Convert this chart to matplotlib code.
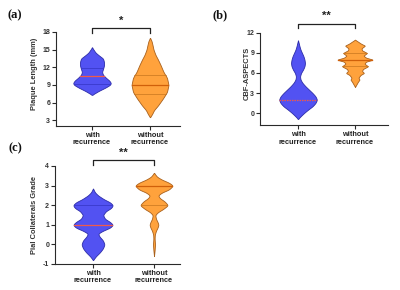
import numpy as np
import matplotlib
matplotlib.use("Agg")
import matplotlib.pyplot as plt

# ---------------- data ----------------
categories = ["with\nrecurrence", "without\nrecurrence"]

# Panel (a) Plaque Length (mm): violin profiles (level, relative width)
a_with_y = [7.3, 7.6, 8.0, 8.5, 9.0, 9.3, 9.7, 10.2, 10.7, 11.2, 11.7, 12.3, 12.9, 13.5, 14.0, 14.5, 15.0, 15.4]
a_with_w = [0, 3, 7, 13, 18, 19, 17.5, 14, 11, 10, 11, 12, 12, 11, 7, 3.5, 1.5, 0]
a_without_y = [3.5, 4.0, 4.7, 5.5, 6.7, 7.8, 9.0, 10.2, 11.2, 12.4, 13.3, 14.1, 15.0, 15.8, 16.5, 17.0]
a_without_w = [0, 2, 4, 8, 13, 17, 18.5, 17, 13.5, 10.5, 8, 5.5, 3.5, 2.5, 1.5, 0]
a_median = [10.5, 8.9]
a_quartiles = [[9.1, 11.8], [7.4, 10.6]]

# Panel (b) CBF-ASPECTS
b_with_y = [-0.9, -0.5, 0.0, 0.5, 1.0, 1.5, 2.0, 2.5, 3.0, 3.5, 4.0, 4.5, 5.0, 5.5, 6.0, 6.5, 7.0, 7.5, 8.0, 8.5, 9.0, 9.5, 10.0, 10.5, 10.9]
b_with_w = [0, 2.5, 6, 10, 14.5, 17.5, 19, 17.5, 14.5, 11, 7.5, 4.5, 2.5, 2, 3, 5, 6.5, 7, 6.5, 5.5, 4, 2.5, 1.5, 0.7, 0]
b_without_y = [3.9, 4.3, 4.7, 5.0, 5.3, 5.7, 6.0, 6.3, 6.6, 7.0, 7.4, 7.7, 8.0, 8.3, 8.6, 9.0, 9.4, 9.7, 10.1, 10.4, 10.7, 11.0]
b_without_w = [0, 1.5, 3, 4.5, 3.5, 5.5, 9, 7, 8, 13, 9.5, 11, 18, 11, 8.5, 12, 7, 6.5, 10, 6, 3, 0]
b_median = [2, 8]
b_quartiles = [[], [7, 9]]

# Panel (c) Pial Collaterals Grade
c_with_y = [-0.8, -0.6, -0.4, -0.2, 0.0, 0.2, 0.4, 0.55, 0.7, 0.85, 1.0, 1.15, 1.3, 1.5, 1.7, 1.85, 2.0, 2.15, 2.3, 2.5, 2.65, 2.85]
c_with_w = [0, 3, 7, 10, 11.5, 10, 6.5, 5, 10, 17, 20, 17, 12, 10, 13, 18, 20, 17, 11, 5, 2, 0]
c_without_y = [-0.6, -0.3, 0.0, 0.3, 0.5, 0.7, 0.85, 1.0, 1.15, 1.3, 1.5, 1.65, 1.8, 2.0, 2.2, 2.35, 2.5, 2.65, 2.8, 3.0, 3.15, 3.3, 3.45, 3.65]
c_without_w = [0, 0.6, 1.0, 0.6, 0.8, 2, 3.5, 4.5, 3.5, 2, 1.2, 4, 9, 14, 10.5, 6, 4, 8, 15, 19, 15, 8, 3, 0]
c_median = [1, 3]
c_quartiles = [[2], [2]]

# ---------------- style ----------------
BLUE = "#5252f2"
BLUE_EDGE = "#2c2ca8"
BLUE_Q = "#3434c4"
BLUE_MED = "#f05a4a"
ORANGE = "#ffa23c"
ORANGE_EDGE = "#a8601c"
ORANGE_Q = "#c8761e"
ORANGE_MED = "#d0600a"
AXC = "#2a2a2a"

W, H = 400, 290
fig = plt.figure(figsize=(4, 2.9), dpi=100)
plt.rcParams['font.family'] = ['Liberation Sans', 'DejaVu Sans']


def px_axes(x0, x1, ytop, ybot):
    return fig.add_axes([x0 / W, (H - ybot) / H, (x1 - x0) / W, (ybot - ytop) / H])


def style_axes(ax, xlim, ylim, yticks):
    ax.set_xlim(*xlim)
    ax.set_ylim(*ylim)
    for s in ["top", "right"]:
        ax.spines[s].set_visible(False)
    for s in ["left", "bottom"]:
        ax.spines[s].set_color(AXC)
        ax.spines[s].set_linewidth(0.8)
    ax.set_yticks(yticks)
    ax.set_yticklabels([str(t) for t in yticks])
    ax.set_xticks([1, 2])
    ax.set_xticklabels(categories, fontsize=5.3, fontweight="bold", color="#222222", linespacing=1.05)
    ax.tick_params(axis="y", length=3, width=0.8, color=AXC, labelsize=5.0, pad=1.2, labelcolor="#333333")
    ax.tick_params(axis="x", length=3, width=0.8, color=AXC, pad=1.5)
    for lab in ax.get_yticklabels():
        lab.set_fontweight("bold")
    ax.patch.set_alpha(0)


def draw_violin(ax, pos, ys, ws, fill, edge, med, med_color, quarts, q_color, sigma, med_ls="-"):
    fig.canvas.draw() if False else None
    bbox = ax.get_position()
    ax_w_px = bbox.width * W
    x0, x1 = ax.get_xlim()
    px_per_x = ax_w_px / (x1 - x0)
    ys = np.asarray(ys, float)
    ws = np.asarray(ws, float)
    yy = np.linspace(ys[0], ys[-1], 600)
    ww = np.interp(yy, ys, ws)
    if sigma > 0:
        dy = yy[1] - yy[0]
        k = np.arange(-int(4 * sigma / dy), int(4 * sigma / dy) + 1) * dy
        g = np.exp(-0.5 * (k / sigma) ** 2)
        g /= g.sum()
        pad = len(k) // 2
        wp = np.concatenate([np.zeros(pad), ww, np.zeros(pad)])
        ww = np.convolve(wp, g, mode="valid")
        ww[0] = 0
        ww[-1] = 0
    half = ww / px_per_x
    ax.fill_betweenx(yy, pos - half, pos + half, facecolor=fill, edgecolor=edge, linewidth=0.6, zorder=2)
    for q in quarts:
        hq = np.interp(q, yy, half)
        ax.plot([pos - hq, pos + hq], [q, q], color=q_color, lw=0.5, zorder=3)
    hm = np.interp(med, yy, half)
    ax.plot([pos - hm, pos + hm], [med, med], color=med_color, lw=0.9, ls=med_ls, zorder=4)


def bracket(ax, y_leg, y_top, y_star, label):
    ax.plot([1, 1, 2, 2], [y_leg, y_top, y_top, y_leg], color="#222222", lw=0.9, clip_on=False, zorder=5)
    ax.text(1.5, y_star, label, ha="center", va="center", fontsize=8, fontweight="bold", color="#222222")


# ---- Panel (a) ----
ax_a = px_axes(56, 180, 32, 126)
style_axes(ax_a, (1 - 36 / 58, 2 + 30 / 58), (2, 18), [3, 6, 9, 12, 15, 18])
draw_violin(ax_a, 1, a_with_y, a_with_w, BLUE, BLUE_EDGE, a_median[0], BLUE_MED, a_quartiles[0], BLUE_Q, 0.12)
draw_violin(ax_a, 2, a_without_y, a_without_w, ORANGE, ORANGE_EDGE, a_median[1], ORANGE_MED, a_quartiles[1], ORANGE_Q, 0.15)
bracket(ax_a, 17.8, 18.67, 19.9, "*")

# ---- Panel (b) ----
ax_b = px_axes(260, 388, 33, 125)
style_axes(ax_b, (1 - 38 / 57, 2 + 33 / 57), (-1.8, 12), [0, 3, 6, 9, 12])
draw_violin(ax_b, 1, b_with_y, b_with_w, BLUE, BLUE_EDGE, b_median[0], BLUE_MED, b_quartiles[0], BLUE_Q, 0.12, med_ls=(0, (1.2, 0.8)))
draw_violin(ax_b, 2, b_without_y, b_without_w, ORANGE, ORANGE_EDGE, b_median[1], ORANGE_MED, b_quartiles[1], ORANGE_Q, 0.04)
bracket(ax_b, 12.7, 13.35, 14.5, "**")

# ---- Panel (c) ----
ax_c = px_axes(55, 180, 166, 264)
style_axes(ax_c, (1 - 38 / 61, 2 + 26 / 61), (-1, 4), [-1, 0, 1, 2, 3, 4])
draw_violin(ax_c, 1, c_with_y, c_with_w, BLUE, BLUE_EDGE, c_median[0], BLUE_MED, c_quartiles[0], BLUE_Q, 0.04)
draw_violin(ax_c, 2, c_without_y, c_without_w, ORANGE, ORANGE_EDGE, c_median[1], ORANGE_MED, c_quartiles[1], ORANGE_Q, 0.04)
bracket(ax_c, 4.05, 4.3, 4.66, "**")

# ---- y labels ----
ylab_kw = dict(rotation=90, ha="center", va="center", fontsize=5.4, color="#333333", fontweight="bold")
fig.text(35 / W, 1 - 74 / H, "Plaque Length (mm)", **ylab_kw)
fig.text(247 / W, 1 - 73 / H, "CBF-ASPECTS", **ylab_kw)
fig.text(35 / W, 1 - 215 / H, "Pial Collaterals Grade", **ylab_kw)

# ---- panel letters ----
let_kw = dict(ha="center", va="center", fontsize=9, fontweight="bold", family="Liberation Serif", color="#111111")
fig.text(15 / W, 1 - 15 / H, "(a)", **let_kw)
fig.text(220 / W, 1 - 15 / H, "(b)", **let_kw)
fig.text(15 / W, 1 - 148 / H, "(c)", **let_kw)

fig.savefig("out.png", dpi=100, facecolor="white")
